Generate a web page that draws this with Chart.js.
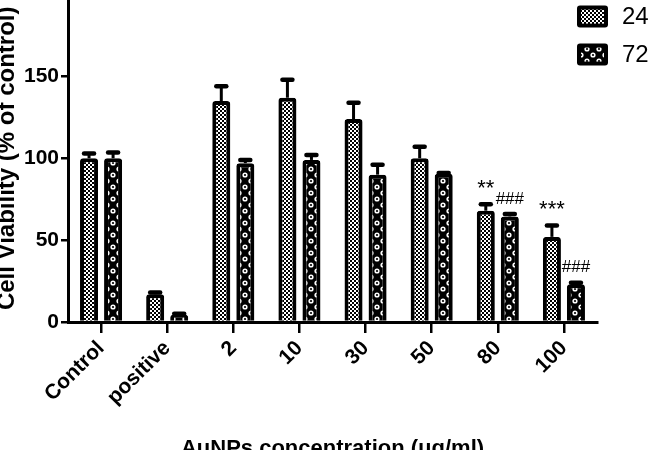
<!DOCTYPE html>
<html>
<head>
<meta charset="utf-8">
<script src="https://cdn.jsdelivr.net/npm/chart.js@4.4.1/dist/chart.umd.min.js"></script>
<style>
html, body { margin: 0; padding: 0; background: #fff; overflow: hidden; width: 650px; height: 450px; }
#wrap { position: absolute; left: -10px; top: -20px; }
</style>
</head>
<body>
<div id="wrap"><canvas id="cellChart" width="700" height="485"></canvas></div>
<script>
const categories = ['Control', 'positive', '2', '10', '30', '50', '80', '100'];
const seriesLabels = ['24h', '72h'];
const viability24h = [100, 17, 135, 137, 124, 100, 68, 52];
const viability72h = [100, 4.5, 97, 99, 90, 90.5, 64.5, 23];
const sem24h = [3, 1, 9, 11, 10, 7, 4, 7];
const sem72h = [3.5, 0.5, 2, 3, 6, 0.5, 1.5, 1];
const marks24h = ['', '', '', '', '', '', '**', '***'];
const marks72h = ['', '', '', '', '', '', '###', '###'];
const yTicks = [0, 50, 100, 150, 200];

const canvas = document.getElementById('cellChart');
const ctx = canvas.getContext('2d');

// fine checker for 24h
function finePattern() {
    const c = document.createElement('canvas');
    c.width = 4; c.height = 4;
    const g = c.getContext('2d');
    g.fillStyle = '#fff';
    g.fillRect(0, 0, 4, 4);
    g.fillStyle = '#000';
    g.fillRect(0, 0, 2, 2);
    g.fillRect(2, 2, 2, 2);
    return ctx.createPattern(c, 'repeat');
}

// white rings on black for 72h
function ringPattern() {
    const c = document.createElement('canvas');
    c.width = 12; c.height = 12;
    const g = c.getContext('2d');
    g.fillStyle = '#000';
    g.fillRect(0, 0, 12, 12);
    [[3, 3], [9, 9]].forEach(([x, y]) => {
        g.fillStyle = '#fff';
        g.beginPath(); g.arc(x, y, 2.6, 0, Math.PI * 2); g.fill();
        g.fillStyle = '#000';
        g.beginPath(); g.arc(x, y, 1.1, 0, Math.PI * 2); g.fill();
    });
    return ctx.createPattern(c, 'repeat');
}

const errorBars = {
    id: 'errorBars',
    afterDatasetsDraw(chart) {
        const c = chart.ctx;
        const y = chart.scales.y;
        chart.data.datasets.forEach((ds, i) => {
            chart.getDatasetMeta(i).data.forEach((bar, j) => {
                const top = y.getPixelForValue(ds.data[j] + ds.errors[j]);
                c.save();
                c.strokeStyle = '#000';
                c.lineWidth = 3;
                c.beginPath(); c.moveTo(bar.x, bar.y); c.lineTo(bar.x, top); c.stroke();
                c.lineWidth = 4.5;
                c.lineCap = 'round';
                c.beginPath(); c.moveTo(bar.x - 5, top); c.lineTo(bar.x + 5, top); c.stroke();
                if (ds.marks[j]) {
                    c.fillStyle = '#000';
                    c.textAlign = 'center';
                    c.textBaseline = 'middle';
                    c.font = ds.marks[j].startsWith('#') ? '17px "Liberation Sans"' : '22px "Liberation Sans"';
                    c.fillText(ds.marks[j], bar.x, top - 15);
                }
                c.restore();
            });
        });
    }
};

const boxLegend = {
    id: 'boxLegend',
    afterDraw(chart) {
        const c = chart.ctx;
        const area = chart.chartArea;
        chart.data.datasets.forEach((ds, i) => {
            const bx = area.right - 20, by = area.top + 11 + i * 38;
            c.save();
            c.fillStyle = '#000';
            c.beginPath(); c.roundRect(bx, by, 31, 22, 3); c.fill();
            c.fillStyle = ds.backgroundColor;
            c.fillRect(bx + 4, by + 4, 23, 14);
            c.fillStyle = '#000';
            c.font = '24px "Liberation Sans"';
            c.textBaseline = 'middle';
            c.fillText(ds.label, bx + 45, by + 12);
            c.restore();
        });
    }
};

const barStyle = {
    borderColor: '#000',
    borderWidth: 4,
    borderRadius: { topLeft: 3, topRight: 3 },
    borderSkipped: 'bottom',
    categoryPercentage: 0.727,
    barPercentage: 0.75
};

new Chart(ctx, {
    type: 'bar',
    data: {
        labels: categories,
        datasets: [
            Object.assign({ label: seriesLabels[0], data: viability24h, errors: sem24h, marks: marks24h, backgroundColor: finePattern() }, barStyle),
            Object.assign({ label: seriesLabels[1], data: viability72h, errors: sem72h, marks: marks72h, backgroundColor: ringPattern() }, barStyle)
        ]
    },
    options: {
        responsive: false,
        animation: false,
        layout: { padding: { top: 13, right: 93, bottom: 0, left: 0 } },
        plugins: { legend: { display: false }, tooltip: { enabled: false } },
        scales: {
            x: {
                offset: true,
                afterFit(scale) { scale.height = 143; },
                grid: { offset: false, drawOnChartArea: false, drawTicks: true, tickLength: 11, color: '#000', lineWidth: 2.5 },
                border: { display: true, color: '#000', width: 3 },
                ticks: { color: '#000', autoSkip: false, minRotation: 45, maxRotation: 45, padding: 3, font: { family: 'Liberation Sans', size: 21, weight: 'bold' } },
                title: { display: true, text: 'AuNPs concentration (μg/ml)', color: '#000', padding: { top: 0, bottom: 3 }, font: { family: 'Liberation Sans', size: 22, weight: 'bold' } }
            },
            y: {
                min: 0,
                max: 200,
                afterFit(scale) { scale.width = 78; },
                afterBuildTicks(scale) { scale.ticks = yTicks.map(v => ({ value: v })); },
                grid: { drawOnChartArea: false, drawTicks: true, tickLength: 7, color: '#000', lineWidth: 2.5 },
                border: { display: true, color: '#000', width: 3 },
                ticks: { color: '#000', padding: 2, font: { family: 'Liberation Sans', size: 21, weight: 'bold' } },
                title: { display: true, text: 'Cell Viability (% of control)', color: '#000', padding: { top: 3, bottom: 0 }, font: { family: 'Liberation Sans', size: 24, weight: 'bold' } }
            }
        }
    },
    plugins: [errorBars, boxLegend]
});
</script>
</body>
</html>
